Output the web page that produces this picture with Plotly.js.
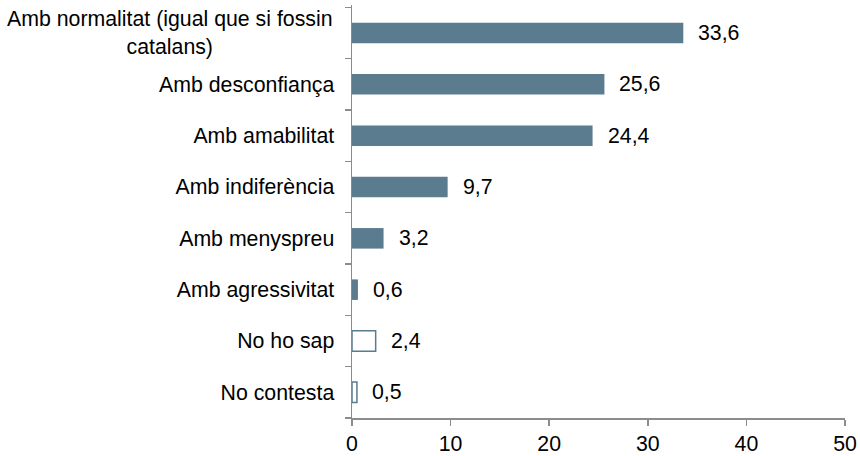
<!DOCTYPE html>
<html>
<head>
<meta charset="utf-8">
<script src="https://cdn.plot.ly/plotly-3.0.1.min.js"></script>
<style>
html,body{margin:0;padding:0;background:#fff;}
#chart{width:860px;height:456px;}
</style>
</head>
<body>
<div id="chart"></div>
<script>
const categories = [
  "Amb normalitat (igual que si fossin<br>catalans)",
  "Amb desconfiança",
  "Amb amabilitat",
  "Amb indiferència",
  "Amb menyspreu",
  "Amb agressivitat",
  "No ho sap",
  "No contesta"
];
const values = [33.6, 25.6, 24.4, 9.7, 3.2, 0.6, 2.4, 0.5];
const filled = [true, true, true, true, true, true, false, false];
const xTicks = [0, 10, 20, 30, 40, 50];

const barColor = "#5b7b8f";
const axisColor = "#8c8c8c";
const fontFam = "'Liberation Sans', Arial, sans-serif";
const fs = 21.3;

const trace = {
  type: "bar",
  orientation: "h",
  x: values,
  y: categories,
  marker: {
    color: filled.map(f => f ? barColor : "#ffffff"),
    line: {color: barColor, width: filled.map(f => f ? 0 : 1.5)}
  },
  hoverinfo: "none"
};

const fmt = v => v.toFixed(1).replace(".", ",");

const annotations = values.map((v, i) => ({
  x: v, y: categories[i], xref: "x", yref: "y",
  text: fmt(v), showarrow: false, xanchor: "left", yanchor: "middle",
  xshift: 13, font: {family: fontFam, size: fs, color: "#000"}
}));

annotations.push({
  x: 0, y: categories[0], xref: "paper", yref: "y",
  text: categories[0], showarrow: false, xanchor: "right", yanchor: "middle",
  align: "center", xshift: -17,
  font: {family: fontFam, size: fs, color: "#000"}
});

const layout = {
  width: 860, height: 456,
  margin: {l: 352, r: 15, t: 5, b: 38},
  paper_bgcolor: "#fff", plot_bgcolor: "#fff",
  showlegend: false,
  bargap: 0.6,
  font: {family: fontFam, size: fs, color: "#000"},
  xaxis: {
    range: [0, 50], tickvals: xTicks, ticktext: xTicks.map(String),
    showgrid: false, zeroline: false, showline: true, linecolor: axisColor, linewidth: 1.5,
    ticks: "outside", ticklen: 6, tickcolor: axisColor, tickwidth: 1.5,
    tickfont: {family: fontFam, size: fs, color: "#000"}, fixedrange: true
  },
  yaxis: {
    type: "category", autorange: "reversed",
    tickvals: categories, ticktext: categories.map((c, i) => i === 0 ? "" : c),
    tickson: "boundaries", ticks: "outside", ticklen: 6, tickcolor: axisColor, tickwidth: 1.5,
    showline: true, linecolor: axisColor, linewidth: 1.5, showgrid: false, zeroline: false,
    ticklabelstandoff: 12,
    tickfont: {family: fontFam, size: fs, color: "#000"}, fixedrange: true
  },
  annotations: annotations
};

Plotly.newPlot("chart", [trace], layout, {displayModeBar: false, staticPlot: true});
</script>
</body>
</html>
